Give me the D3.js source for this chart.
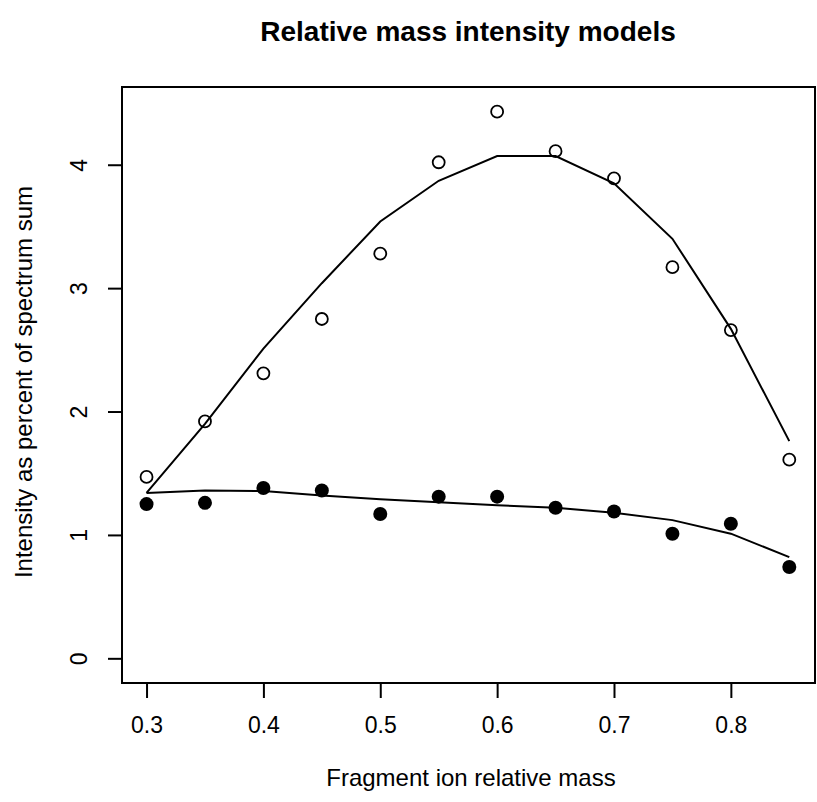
<!DOCTYPE html>
<html>
<head>
<meta charset="utf-8">
<script src="https://cdn.jsdelivr.net/npm/d3@7"></script>
<style>
  body { margin: 0; background: #fff; }
  text { font-family: "Liberation Sans", Arial, sans-serif; fill: #000; }
</style>
</head>
<body>
<div class="chart"></div>
<script>
"use strict";

const mass = [0.3, 0.35, 0.4, 0.45, 0.5, 0.55, 0.6, 0.65, 0.7, 0.75, 0.8, 0.85];
const open_obs = [1.47, 1.92, 2.31, 2.75, 3.28, 4.02, 4.43, 4.11, 3.89, 3.17, 2.66, 1.61];
const open_model = [1.34, 1.90, 2.51, 3.04, 3.54, 3.87, 4.07, 4.07, 3.85, 3.40, 2.67, 1.76];
const filled_obs = [1.25, 1.26, 1.38, 1.36, 1.17, 1.31, 1.31, 1.22, 1.19, 1.01, 1.09, 0.74];
const filled_model = [1.34, 1.36, 1.355, 1.32, 1.29, 1.265, 1.24, 1.22, 1.18, 1.12, 1.01, 0.82];
const x_ticks = [0.3, 0.4, 0.5, 0.6, 0.7, 0.8];
const y_ticks = [0, 1, 2, 3, 4];

window.onload = () => main();

function main() {
    const config = { width: 817, height: 802, left: 122, right: 815, top: 87, bottom: 683 };

    const svg = d3.select(".chart")
        .append("svg")
        .attr("width", config.width)
        .attr("height", config.height);

    const x = d3.scaleLinear().domain([0.279, 0.872]).range([config.left, config.right]);
    const y = d3.scaleLinear().domain([-0.2, 4.63]).range([config.bottom, config.top]);

    // plot frame
    svg.append("rect")
        .attr("x", config.left)
        .attr("y", config.top)
        .attr("width", config.right - config.left)
        .attr("height", config.bottom - config.top)
        .attr("fill", "none")
        .attr("stroke", "#000")
        .attr("stroke-width", 2);

    const x_axis = svg.append("g")
        .attr("transform", `translate(0,${config.bottom})`)
        .call(d3.axisBottom(x).tickValues(x_ticks).tickSize(15).tickPadding(19).tickFormat(d3.format(".1f")));
    const y_axis = svg.append("g")
        .attr("transform", `translate(${config.left},0)`)
        .call(d3.axisLeft(y).tickValues(y_ticks).tickSize(14).tickPadding(0).tickFormat(d3.format("d")));

    [x_axis, y_axis].forEach(g => {
        g.select(".domain").remove();
        g.selectAll(".tick line").attr("stroke", "#000").attr("stroke-width", 2);
        g.selectAll(".tick text").attr("font-size", 23).attr("font-family", "Liberation Sans, Arial, sans-serif");
    });
    // R style: y tick labels are rotated parallel to the axis
    y_axis.selectAll(".tick text")
        .attr("x", null).attr("dy", null)
        .attr("text-anchor", "middle")
        .attr("transform", "translate(-35,0) rotate(-90)");

    const line = d3.line().x((d, i) => x(mass[i])).y(d => y(d));
    [open_model, filled_model].forEach(series => {
        svg.append("path")
            .datum(series)
            .attr("d", line)
            .attr("fill", "none")
            .attr("stroke", "#000")
            .attr("stroke-width", 2);
    });

    svg.append("g").selectAll("circle")
        .data(open_obs)
        .enter()
        .append("circle")
        .attr("cx", (d, i) => x(mass[i]))
        .attr("cy", d => y(d))
        .attr("r", 6)
        .attr("fill", "none")
        .attr("stroke", "#000")
        .attr("stroke-width", 1.8);

    svg.append("g").selectAll("circle")
        .data(filled_obs)
        .enter()
        .append("circle")
        .attr("cx", (d, i) => x(mass[i]))
        .attr("cy", d => y(d))
        .attr("r", 7)
        .attr("fill", "#000");

    svg.append("text")
        .attr("x", 468)
        .attr("y", 41)
        .attr("text-anchor", "middle")
        .attr("font-size", 28)
        .attr("font-weight", "bold")
        .text("Relative mass intensity models");

    svg.append("text")
        .attr("x", 471)
        .attr("y", 786)
        .attr("text-anchor", "middle")
        .attr("font-size", 24)
        .text("Fragment ion relative mass");

    svg.append("text")
        .attr("transform", "translate(32,382) rotate(-90)")
        .attr("text-anchor", "middle")
        .attr("font-size", 24)
        .text("Intensity as percent of spectrum sum");
}
</script>
</body>
</html>
